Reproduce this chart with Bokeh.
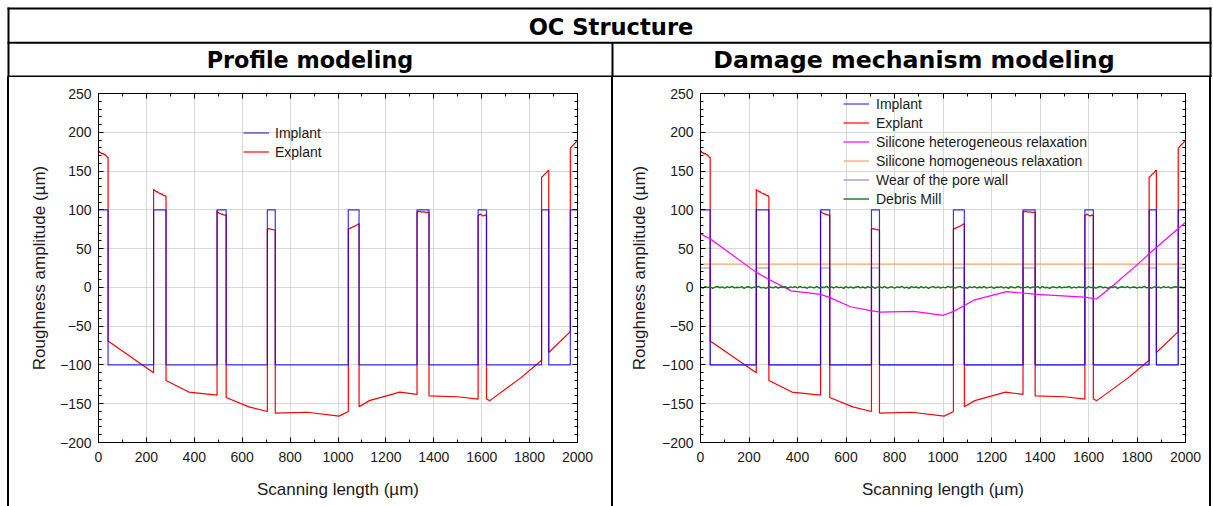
from bokeh.plotting import figure
from bokeh.models import (Range1d, LinearAxis, Legend, LegendItem, Label, Div,
                          SingleIntervalTicker, CustomJSTickFormatter)
from bokeh.layouts import column, row
from bokeh.embed import file_html
from bokeh.resources import INLINE

# ---------------- data ----------------
pore_start = [0, 230, 495, 705, 1043, 1330, 1585, 1850, 1970]
pore_end = [40, 282, 533, 738, 1088, 1380, 1620, 1880, 2000]
implant_high, implant_low = 100, -100
wear_high, wear_low = 25, -100

# explant profile on top of the pores (noisy plateaus)
pore_top_x = [
    [0, 3, 6, 9, 12, 15, 18, 21, 24, 27, 30, 33, 36, 40],
    [230, 234, 238, 242, 246, 250, 254, 258, 262, 266, 270, 274, 278, 282],
    [495, 499, 503, 507, 511, 515, 519, 523, 527, 533],
    [705, 709, 713, 717, 721, 725, 729, 733, 738],
    [1043, 1047, 1051, 1055, 1059, 1063, 1067, 1071, 1075, 1079, 1083, 1088],
    [1330, 1335, 1340, 1345, 1350, 1355, 1360, 1365, 1370, 1375, 1380],
    [1585, 1590, 1595, 1600, 1605, 1610, 1615, 1620],
    [1850, 1855, 1860, 1865, 1870, 1875, 1880],
    [1970, 1975, 1980, 1985, 1990, 1995, 2000],
]
pore_top_y = [
    [174.5, 176, 173.5, 174, 172.5, 173, 172, 172.5, 171, 171.5, 170, 169.5, 168, 167.5],
    [126.5, 125, 124.5, 123, 123.5, 122, 121.5, 121, 120, 120.5, 119, 118, 118.5, 117],
    [98.5, 97, 96, 95.5, 95, 94, 94.5, 93.5, 93, 93.5],
    [75, 75.5, 76, 75, 75, 74.5, 74.5, 74, 74],
    [75.5, 76, 76, 77, 77.5, 78, 78.5, 79, 80, 80.5, 81.5, 82],
    [97.5, 98, 97.5, 98, 97, 97.5, 97, 97, 96.5, 97, 96.5],
    [92.5, 93.5, 94.5, 93, 92, 92.5, 93.5, 92],
    [142.5, 143, 145, 146.5, 148, 150, 151],
    [179.5, 181, 183, 184.5, 186, 188, 189],
]
# explant profile between the pores
gap_x = [
    [40, 230],
    [282, 377, 495],
    [533, 628, 705],
    [738, 871, 1005, 1043],
    [1088, 1131, 1258, 1330],
    [1380, 1500, 1585],
    [1620, 1634, 1762, 1850],
    [1880, 1970],
]
gap_y = [
    [-69, -110],
    [-120, -135, -139],
    [-142, -154, -160],
    [-162, -161, -166, -160],
    [-154, -146, -135, -138],
    [-140, -141, -144],
    [-144, -146, -117, -94],
    [-84, -57],
]

hetero_x = [0, 41, 227, 275, 374, 495, 529, 619, 701, 742, 880, 1001, 1044, 1127,
            1262, 1388, 1581, 1633, 1704, 1800, 1856, 2000]
hetero_y = [69, 62.5, 20, 11.5, -4.5, -9, -12.5, -25, -30, -32, -31, -36, -31, -16.5,
            -5.5, -9, -12.5, -15, 3, 29, 45, 84]

homo_x = [0, 2000]
homo_y = [30, 30]

debris_x = list(range(0, 2001, 10))
debris_y = [0.4, -0.9, 1.1, -0.2, 0.8, -1.3, 0.3, 1.2, -0.5, 0.6,
            -1.1, 0.9, -0.4, 1.3, -0.7, 0.2, -0.3, 1.0, -1.2, 0.5,
            0.8, -1.0, 0.4, -0.2, 1.2, -0.6, 0.1, -1.4, 0.7, 0.2,
            -0.6, 1.1, -0.9, 0.5, -0.1, 0.9, -1.2, 0.6, -0.4, 1.0,
            -0.8, 1.4, -0.3, 0.3, -1.1, 0.8, 0.0, -0.7, 1.2, -0.9,
            0.2, -0.2, 1.3, -1.0, 0.6, -0.8, 1.0, -0.4, 0.3, -1.2,
            0.9, -0.5, 0.7, -0.8, 0.2, 1.1, -0.7, 0.5, -1.0, 0.9,
            -0.3, 0.8, -1.3, 0.4, 0.6, -0.6, 1.2, -0.9, 0.1, 0.7,
            -1.1, 0.6, -0.2, 1.4, -0.8, 0.3, -1.3, 0.9, -0.2, 0.5,
            -1.0, 1.1, -0.6, 0.8, -1.2, 0.4, 1.0, -0.5, 0.7, -0.9,
            0.3, -0.7, 1.2, -0.1, 0.9, -1.1, 0.4, 1.3, -0.6, 0.2,
            -1.3, 0.7, -0.3, 1.1, -0.8, 0.5, -0.5, 1.2, -0.9, 0.0,
            0.6, -1.2, 0.5, -0.2, 1.0, -0.8, 0.3, -1.3, 1.0, -0.1,
            -0.4, 1.3, -0.7, 0.3, -0.3, 1.1, -1.0, 0.7, -0.2, 0.9,
            -1.0, 1.2, -0.5, 0.1, -1.3, 0.6, 0.2, -0.5, 1.0, -0.7,
            0.4, -0.2, 1.3, -0.9, 0.4, -0.6, 0.8, -0.2, 0.3, -1.4,
            1.1, -0.3, 0.5, -1.0, 0.2, 1.3, -0.5, 0.3, -1.2, 0.7,
            -0.1, 1.0, -1.3, 0.2, 0.8, -0.4, 1.0, -0.7, 0.1, 0.5,
            -0.9, 0.4, -0.4, 1.2, -0.6, 0.3, -1.1, 0.7, 0.0, 0.3,
            -0.8, 0.9, -0.4, 0.6, -1.0, 0.2, 0.8, -0.3, 0.5, -0.7,
            0.1]

title_main = "OC Structure"
title_left = "Profile modeling"
title_right = "Damage mechanism modeling"
x_label = "Scanning length (µm)"
y_label = "Roughness amplitude (µm)"


def square(high, low):
    xs, ys = [], []
    for i, (s, e) in enumerate(zip(pore_start, pore_end)):
        if i > 0:
            xs.append(s); ys.append(low)
        xs += [s, e]; ys += [high, high]
        if e < 2000:
            xs.append(e); ys.append(low)
    return xs, ys


implant_x, implant_y = square(implant_high, implant_low)
wear_x, wear_y = square(wear_high, wear_low)
explant_x, explant_y = [], []
for i in range(len(pore_top_x)):
    explant_x += pore_top_x[i]; explant_y += pore_top_y[i]
    if i < len(gap_x):
        explant_x += gap_x[i]; explant_y += gap_y[i]

FONT = "Liberation Sans"
TXT = "#1a1a1a"
ROW_H = 429


def style_axis(ax, show_labels):
    ax.major_tick_in = 5
    ax.major_tick_out = 0
    ax.minor_tick_in = 3
    ax.minor_tick_out = 0
    ax.axis_line_color = "black"
    ax.major_tick_line_color = "black"
    ax.minor_tick_line_color = "black"
    ax.major_label_text_font = FONT
    ax.major_label_text_font_size = "14px"
    ax.major_label_text_color = TXT
    ax.axis_label_text_font = FONT
    ax.axis_label_text_font_size = "17px"
    ax.axis_label_text_font_style = "normal"
    ax.axis_label_text_color = TXT
    if not show_labels:
        ax.formatter = CustomJSTickFormatter(code="return ''")
        ax.major_label_standoff = 0


def make_chart(width, mbl, mbr, mbt, mbb, ylab_standoff):
    p = figure(width=width, height=ROW_H, x_range=Range1d(0, 2000), y_range=Range1d(-200, 250),
               output_backend="svg", toolbar_location=None,
               min_border_left=mbl, min_border_right=mbr, min_border_top=mbt, min_border_bottom=mbb)
    p.outline_line_color = None
    p.background_fill_color = "white"
    p.border_fill_color = "white"
    xt = SingleIntervalTicker(interval=200, num_minor_ticks=2)
    yt = SingleIntervalTicker(interval=50, num_minor_ticks=5)
    p.xaxis.ticker = xt
    p.yaxis.ticker = yt
    p.xgrid.ticker = xt
    p.ygrid.ticker = yt
    p.xgrid.grid_line_color = "#d9d9d9"
    p.ygrid.grid_line_color = "#d9d9d9"
    p.xaxis.axis_label = x_label
    p.yaxis.axis_label = y_label
    for ax in p.xaxis:
        style_axis(ax, True)
        ax.major_label_standoff = 9
        ax.axis_label_standoff = 15
    for ax in p.yaxis:
        style_axis(ax, True)
        ax.major_label_standoff = 7
        ax.axis_label_standoff = ylab_standoff
    top = LinearAxis(ticker=xt)
    style_axis(top, False)
    right = LinearAxis(ticker=yt)
    style_axis(right, False)
    p.add_layout(top, "above")
    p.add_layout(right, "right")
    return p


def style_legend(lg):
    lg.border_line_color = None
    lg.background_fill_alpha = 0
    lg.padding = 0
    lg.margin = 0
    lg.spacing = 0
    lg.glyph_width = 26
    lg.glyph_height = 19
    lg.label_height = 19
    lg.label_standoff = 6
    lg.label_text_font = FONT
    lg.label_text_font_size = "14px"
    lg.label_text_color = TXT


# ---------------- left chart ----------------
pl = make_chart(602, 89, 34, 16, 64, 8)
r_exp_l = pl.line(explant_x, explant_y, line_color="red", line_width=1.2)
r_imp_l = pl.line(implant_x, implant_y, line_color="blue", line_width=1.2, line_alpha=0.8)
leg_l = Legend(items=[LegendItem(label="Implant", renderers=[r_imp_l]),
                      LegendItem(label="Explant", renderers=[r_exp_l])],
               location=(145, 281))
style_legend(leg_l)
pl.add_layout(leg_l)

# ---------------- right chart ----------------
pr = make_chart(596, 87, 24, 16, 61, 10)
r_wear = pr.line(wear_x, wear_y, line_color="#9a84cc", line_width=1.2)
r_homo = pr.line(homo_x, homo_y, line_color="#f4a460", line_width=1.2)
r_exp_r = pr.line(explant_x, explant_y, line_color="red", line_width=1.2)
r_imp_r = pr.line(implant_x, implant_y, line_color="blue", line_width=1.2, line_alpha=0.8)
r_het = pr.line(hetero_x, hetero_y, line_color="#ff00ff", line_width=1.2)
r_deb = pr.line(debris_x, debris_y, line_color="#0a7f0a", line_width=1.4)
leg_r = Legend(items=[LegendItem(label="Implant", renderers=[r_imp_r]),
                      LegendItem(label="Explant", renderers=[r_exp_r]),
                      LegendItem(label="Silicone heterogeneous relaxation", renderers=[r_het]),
                      LegendItem(label="Silicone homogeneous relaxation", renderers=[r_homo]),
                      LegendItem(label="Wear of the pore wall", renderers=[r_wear]),
                      LegendItem(label="Debris Mill", renderers=[r_deb])],
               location=(143, 234))
style_legend(leg_r)
leg_r.label_standoff = 7
pr.add_layout(leg_r)

# ---------------- header (table rows) ----------------
W, H = 1213, 77
hd = figure(width=W, height=H, x_range=Range1d(0, W), y_range=Range1d(0, H),
            output_backend="svg", toolbar_location=None, min_border=0,
            x_axis_type=None, y_axis_type=None)
hd.outline_line_color = None
hd.grid.visible = False
hd.segment(x0=[7, 7, 7, 8, 1210, 612], y0=[69, 34.7, 1, 0, 0, 0],
           x1=[1211, 1211, 1211, 8, 1210, 612], y1=[69, 34.7, 1, 70, 70, 35],
           line_color="black", line_width=2)
for txt, x, y, fs in [(title_main, 610.5, 51, "22.6px"),
                      (title_left, 309.5, 18, "22.3px"),
                      (title_right, 913.5, 18, "23.7px")]:
    hd.add_layout(Label(x=x, y=y, text=txt, text_align="center", text_baseline="middle",
                        text_font="DejaVu Sans", text_font_style="bold",
                        text_font_size=fs, text_color="black"))


def strip(w, color):
    return Div(text="", width=w, height=ROW_H, margin=(0, 0, 0, 0),
               styles={"background-color": color})


layout = column(hd, row(strip(7, "white"), strip(2, "black"), pl, strip(2, "black"), pr,
                        strip(2, "black"), strip(2, "white")))
open("out.html", "w").write(file_html(layout, INLINE))
